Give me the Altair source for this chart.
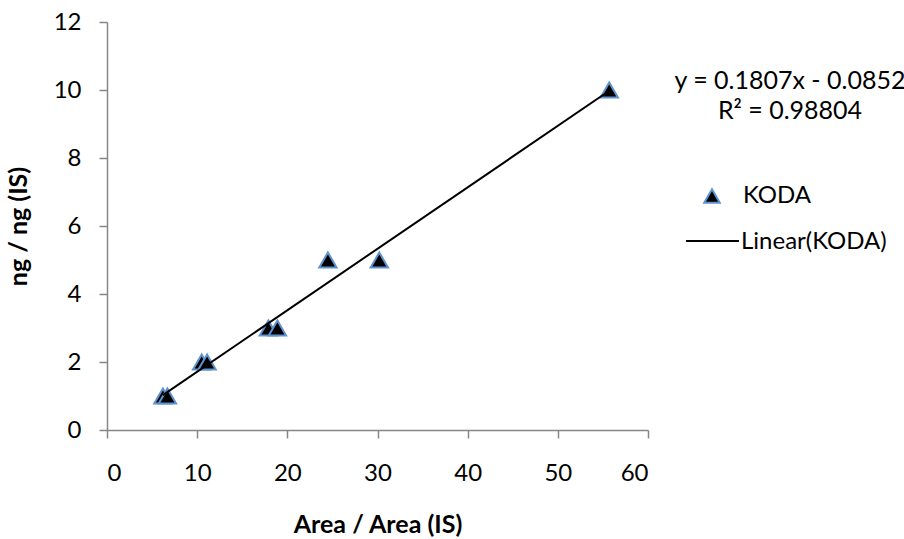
import altair as alt
import pandas as pd

# Data
area_ratio = [6.2, 6.7, 10.5, 11.1, 17.9, 18.9, 24.5, 30.2, 55.7]
ng_ratio = [1, 1, 2, 2, 3, 3, 5, 5, 10]
x_ticks = [0, 10, 20, 30, 40, 50, 60]
y_ticks = [0, 2, 4, 6, 8, 10, 12]
series_name = "KODA"
trend_name = "Linear(KODA)"
eq_lines = ["y = 0.1807x - 0.0852", "R² = 0.98804"]

df = pd.DataFrame({"x": area_ratio, "y": ng_ratio})

FONT = "Lato"
FS = 24
AXIS_GRAY = "#868686"
MARKER_EDGE = "#5F93CF"

xenc = alt.X("x:Q", scale=alt.Scale(domain=[0, 60], nice=False),
             axis=alt.Axis(values=x_ticks, title="Area / Area (IS)", format="d"))
yenc = alt.Y("y:Q", scale=alt.Scale(domain=[0, 12], nice=False),
             axis=alt.Axis(values=y_ticks, title="ng / ng (IS)", format="d"))

points = alt.Chart(df).mark_point(
    shape="triangle-up", filled=True, fill="black", stroke=MARKER_EDGE,
    strokeWidth=2, opacity=1, size=300,
).encode(x=xenc, y=yenc)

trend = alt.Chart(df).transform_regression("x", "y", method="linear").mark_line(
    color="black", strokeWidth=2
).encode(x="x:Q", y="y:Q")

one = alt.Data(values=[{"k": 0}])

def label(txt, x, y, align, size=FS):
    return alt.Chart(one).mark_text(align=align, baseline="middle", font=FONT,
                                    fontSize=size, color="black").encode(
        x=alt.value(x), y=alt.value(y), text=alt.value(txt))

eq1 = label(eq_lines[0], 683, 59, "center", 25)
eq2 = label(eq_lines[1], 683, 89, "center", 25)

leg_pt = alt.Chart(one).mark_point(
    shape="triangle-up", filled=True, fill="black", stroke=MARKER_EDGE,
    strokeWidth=2, opacity=1, size=240,
).encode(x=alt.value(605), y=alt.value(174))
leg_pt_txt = label(series_name, 636, 174, "left")
leg_line = alt.Chart(one).mark_rule(color="black", strokeWidth=2).encode(
    x=alt.value(579), x2=alt.value(632), y=alt.value(219))
leg_line_txt = label(trend_name, 634, 220, "left")

chart = alt.layer(points, trend, eq1, eq2, leg_pt, leg_pt_txt, leg_line, leg_line_txt).properties(
    width=541, height=408,
    autosize=alt.AutoSizeParams(type="none"),
    padding={"left": 107, "top": 22, "right": 256, "bottom": 109},
).configure_view(stroke=None).configure_axis(
    grid=False,
    domainColor=AXIS_GRAY, domainWidth=1.5,
    tickColor=AXIS_GRAY, tickWidth=1.5, tickSize=8,
    labelFont=FONT, labelFontSize=FS, labelColor="black",
    titleFont=FONT, titleFontSize=25, titleFontWeight="bold", titleColor="black",
).configure_axisX(labelPadding=23, titlePadding=27).configure_axisY(
    labelPadding=18, titlePadding=22)

chart.save("out.html", embed_options={"renderer": "svg", "actions": False})
